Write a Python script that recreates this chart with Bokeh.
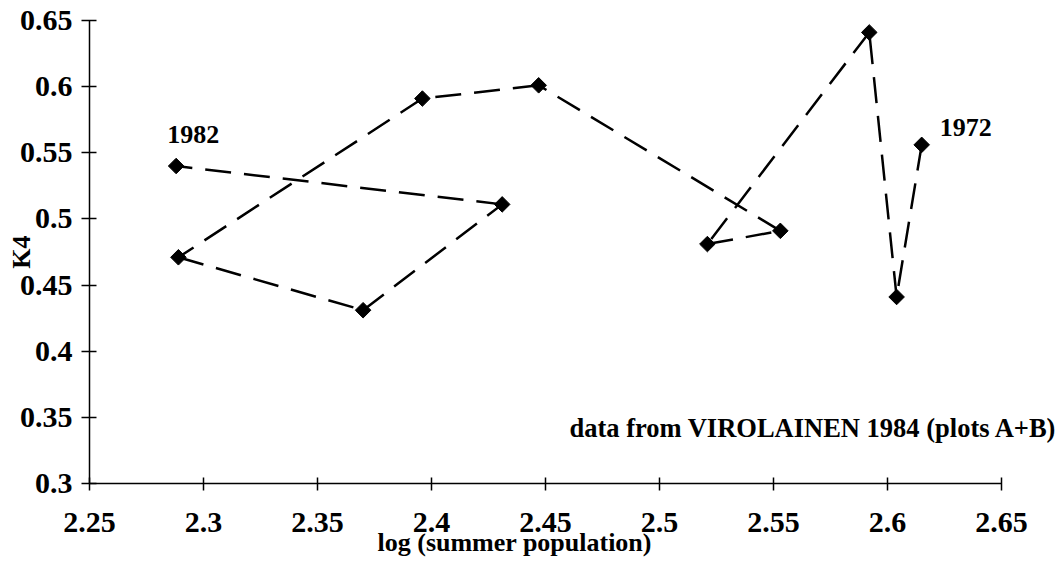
import math
from bokeh.plotting import figure
from bokeh.models import Range1d, FixedTicker, Label, Title
from bokeh.core.properties import value
from bokeh.embed import file_html
from bokeh.resources import INLINE

# ---- data ----
years = [1972, 1973, 1974, 1975, 1976, 1977, 1978, 1979, 1980, 1981, 1982]
log_pop = [2.615, 2.604, 2.592, 2.521, 2.553, 2.447, 2.396, 2.289, 2.370, 2.431, 2.288]
k4 = [0.556, 0.441, 0.641, 0.481, 0.491, 0.601, 0.591, 0.471, 0.431, 0.511, 0.540]

x_tick_labels = ["2.25", "2.3", "2.35", "2.4", "2.45", "2.5", "2.55", "2.6", "2.65"]
y_tick_labels = ["0.3", "0.35", "0.4", "0.45", "0.5", "0.55", "0.6", "0.65"]

x_title = "log (summer population)"
y_title = "K4"
note = "data from VIROLAINEN 1984 (plots A+B)"
labelled_years = ["1972", "1982"]

FONT = "Liberation Serif"
FS = "26px"

x_ticks = [float(t) for t in x_tick_labels]
y_ticks = [float(t) for t in y_tick_labels]

# frame extends a little past 2.65 so the note fits; the axis itself stops at 2.65
p = figure(width=1060, height=562, output_backend="svg", toolbar_location=None,
           x_range=Range1d(x_ticks[0], 2.675), y_range=Range1d(y_ticks[0], y_ticks[-1]),
           min_border_left=89, min_border_right=2, min_border_top=20, min_border_bottom=79)
p.outline_line_color = None
p.grid.visible = False
p.background_fill_color = "white"
p.border_fill_color = "white"

for ax, ticks, labels in ((p.xaxis[0], x_ticks, x_tick_labels), (p.yaxis[0], y_ticks, y_tick_labels)):
    ax.ticker = FixedTicker(ticks=ticks, minor_ticks=[])
    ax.major_label_overrides = {t: l for t, l in zip(ticks, labels)}
    ax.bounds = (ticks[0], ticks[-1])
    ax.axis_line_color = "black"
    ax.axis_line_width = 1.5
    ax.major_tick_line_color = "black"
    ax.major_tick_line_width = 1.5
    ax.minor_tick_line_color = None
    ax.major_label_text_font = FONT
    ax.major_label_text_font_style = "bold"
    ax.major_label_text_color = "black"
    ax.major_label_text_font_size = "30px"

p.xaxis.major_tick_in = 6
p.xaxis.major_tick_out = 7
p.xaxis.major_label_standoff = 22
p.yaxis.major_tick_in = 7
p.yaxis.major_tick_out = 8
p.yaxis.major_label_standoff = 9

# y-axis title
p.yaxis.axis_label = y_title
p.yaxis.axis_label_text_font = FONT
p.yaxis.axis_label_text_font_style = "bold"
p.yaxis.axis_label_text_font_size = FS
p.yaxis.axis_label_text_color = "black"
p.yaxis.axis_label_standoff = -19

# x-axis title (left-anchored, offset to match the reference position)
p.add_layout(Title(text=x_title, align="left", offset=288, standoff=-17,
                   text_font=FONT, text_font_style="bold", text_font_size=FS,
                   text_color="black"), "below")

# dashed connecting segments (pattern restarts per segment)
p.segment(x0=log_pop[:-1], y0=k4[:-1], x1=log_pop[1:], y1=k4[1:],
          line_color="black", line_width=2.5, line_dash="26 13")

# diamond markers
p.scatter(log_pop, k4, marker="square", size=11, angle=math.pi / 4,
          fill_color="black", line_color="black")

# year labels next to first and last points
p.text(x=log_pop[:1], y=k4[:1], text=labelled_years[:1], x_offset=18, y_offset=-17,
       text_font=value(FONT), text_font_style="bold", text_font_size=FS,
       text_align="left", text_baseline="middle", text_color="black")
p.text(x=log_pop[-1:], y=k4[-1:], text=labelled_years[1:], x_offset=-9, y_offset=-32,
       text_font=value(FONT), text_font_style="bold", text_font_size=FS,
       text_align="left", text_baseline="middle", text_color="black")

# note text
p.add_layout(Label(x=2.4605, y=0.3423, text=note, text_font=FONT, text_font_style="bold",
                   text_font_size="26.5px", text_align="left", text_baseline="middle",
                   text_color="black"))

open("out.html", "w").write(file_html(p, INLINE))
